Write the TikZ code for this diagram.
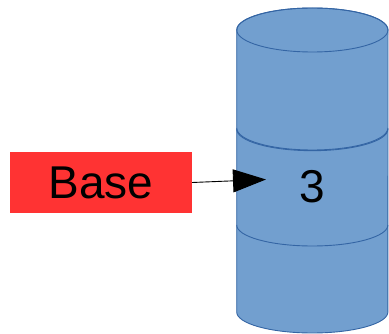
\documentclass[tikz,border=0pt]{standalone}
\usepackage{fontspec}
\setmainfont{Liberation Sans}
\usetikzlibrary{arrows.meta}
\definecolor{cylfill}{HTML}{729FCF}
\definecolor{cyledge}{HTML}{3465A4}
\definecolor{basered}{HTML}{FF3333}
\tikzset{
  cylbody/.style={fill=cylfill, draw=cyledge, line width=0.9pt},
  cylline/.style={draw=cyledge, line width=0.9pt},
  bigtext/.style={font=\fontsize{46}{55}\selectfont, text=black},
  basebox/.style={fill=basered, minimum width=182pt, minimum height=61pt, inner sep=0pt, bigtext},
  link/.style={-{Triangle[length=33pt, width=23pt]}, line width=0.9pt}
}
\begin{document}
\begin{tikzpicture}[x=1pt, y=-1pt]
  \useasboundingbox (0,0) rectangle (389,334);
  % stacked cylinder: one body, the top cap and two section seams
  \path[cylbody] (236.7,30) -- (236.7,312)
    arc[start angle=180, end angle=360, x radius=75.6pt, y radius=21pt]
    -- (388,30)
    arc[start angle=0, end angle=180, x radius=75.6pt, y radius=22pt] -- cycle;
  \draw[cylline] (312.35,30) ellipse[x radius=75.6pt, y radius=22pt];
  \draw[cylline] (236.7,128) arc[start angle=180, end angle=360, x radius=75.6pt, y radius=22pt];
  \draw[cylline] (236.7,129.2) arc[start angle=180, end angle=360, x radius=75.6pt, y radius=21.5pt];
  \draw[cylline] (236.7,225) arc[start angle=180, end angle=360, x radius=75.6pt, y radius=21pt];
  \node[bigtext] (val) at (312.3,186.5) {3};
  \node[basebox] (base) at (101,182.5) {Base};
  \coordinate (tip) at (266,179.5);
  \draw[link] (base.east) -- (tip);
\end{tikzpicture}
\end{document}
